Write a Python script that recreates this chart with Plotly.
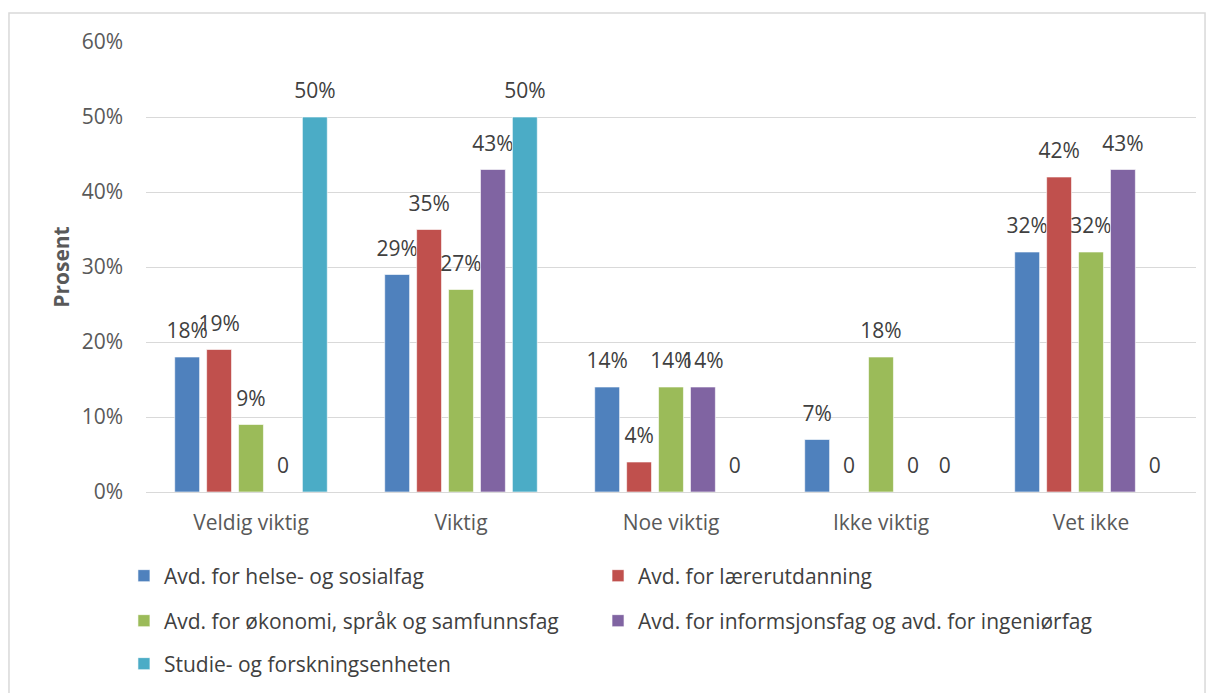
import plotly.graph_objects as go

categories = ["Veldig viktig", "Viktig", "Noe viktig", "Ikke viktig", "Vet ikke"]

series_names = [
    "Avd. for helse- og sosialfag",
    "Avd. for lærerutdanning",
    "Avd. for økonomi, språk og samfunnsfag",
    "Avd. for informsjonsfag og avd. for ingeniørfag",
    "Studie- og forskningsenheten",
]

helse = [18, 29, 14, 7, 32]
laerer = [19, 35, 4, 0, 42]
okonomi = [9, 27, 14, 18, 32]
informasjon = [0, 43, 14, 0, 43]
studie = [50, 50, 0, 0, 0]

colors = ["#4F81BD", "#C0504D", "#9BBB59", "#8064A2", "#4BACC6"]

# one small legend per series so the 2-column grid can be placed freely
legend_ids = ["legend", "legend2", "legend3", "legend4", "legend5"]
legend_x = [-0.021, 0.4305, -0.021, 0.4305, -0.021]
legend_y = [-0.1867, -0.1867, -0.2867, -0.2867, -0.3822]

FONT = "Open Sans, Liberation Sans, sans-serif"
BIG = 21


def _label(v):
    # Excel shows zero as plain "0"
    txt = f"{v}%" if v else "0"
    # small spacer line lifts the label off the bar top
    return f"<span style='font-size:{BIG}px'>{txt}</span><br>&nbsp;"


fig = go.Figure()

all_values = [helse, laerer, okonomi, informasjon, studie]
for name, vals, color, leg in zip(series_names, all_values, colors, legend_ids):
    fig.add_trace(go.Bar(
        x=categories,
        y=vals,
        name=name,
        marker=dict(color=color, line=dict(color="rgba(255,255,255,0.6)", width=1)),
        text=[_label(v) for v in vals],
        textposition="outside",
        textangle=0,
        constraintext="none",
        cliponaxis=False,
        textfont=dict(family=FONT, size=10, color="#404040"),
        legend=leg,
    ))

legend_layout = {}
for leg, lx, ly in zip(legend_ids, legend_x, legend_y):
    legend_layout[leg] = dict(
        orientation="h",
        xanchor="left",
        yanchor="middle",
        x=lx,
        y=ly,
        font=dict(family=FONT, size=BIG, color="#404040"),
        itemwidth=30,
        bgcolor="rgba(0,0,0,0)",
    )

# page body has an 8px margin, so the figure is 8px smaller than the window
fig.update_layout(
    width=1206,
    height=685,
    margin=dict(l=138, r=18, t=34, b=201, autoexpand=False),
    paper_bgcolor="white",
    plot_bgcolor="white",
    barmode="group",
    bargap=0.24,
    bargroupgap=0.22,
    showlegend=True,
    font=dict(family=FONT, size=BIG, color="#595959"),
    **legend_layout,
)

fig.update_yaxes(
    range=[0, 60],
    dtick=10,
    ticksuffix="%",
    showgrid=True,
    gridcolor="#D9D9D9",
    gridwidth=1,
    zeroline=False,
    showline=False,
    ticks="",
    ticklabelstandoff=22,
    tickfont=dict(family=FONT, size=BIG, color="#595959"),
    title=dict(text="<b>Prosent</b>", font=dict(family=FONT, size=21, color="#595959"), standoff=6),
)

fig.update_xaxes(
    showline=True,
    linecolor="#D9D9D9",
    linewidth=1,
    showgrid=False,
    ticks="",
    ticklabelstandoff=12,
    tickfont=dict(family=FONT, size=BIG, color="#595959"),
)

# outer chart-area border
fig.add_shape(
    type="rect", xref="paper", yref="paper",
    x0=-0.1305, x1=1.0086, y0=-0.6, y1=1.0644,
    line=dict(color="#D9D9D9", width=1.5),
    layer="below",
)

fig.write_html("out.html")
